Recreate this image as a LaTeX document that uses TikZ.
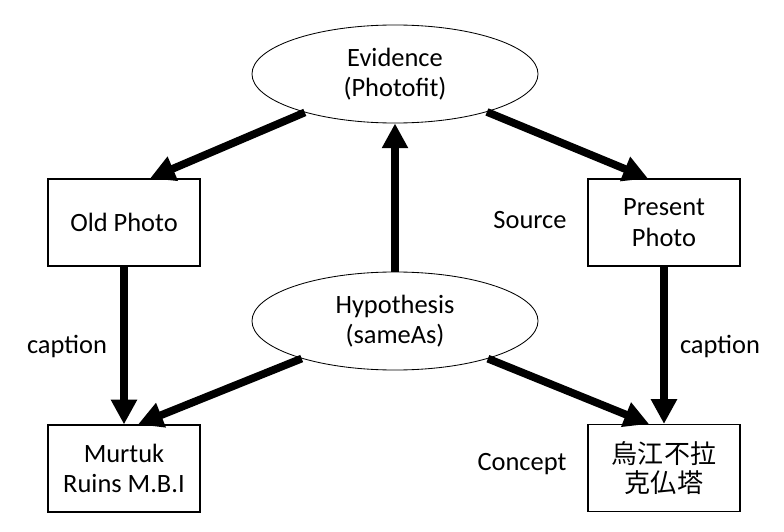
\documentclass[tikz,border=0pt]{standalone}
\usepackage{fontspec}
\setmainfont{Carlito}
\newfontfamily\cjkfont{Noto Sans CJK JP}
\usetikzlibrary{arrows.meta,shapes.geometric,calc}
\tikzset{every picture/.style={line width=0.75pt}}

\begin{document}
\begin{tikzpicture}[x=0.025cm, y=-0.025cm,
    font=\fontsize{18.8}{21.8}\selectfont,
    box/.style={draw, line width=0.8pt, minimum width=3.8cm, minimum height=2.175cm, align=center, inner sep=0pt},
    oval/.style={draw, ellipse, line width=0.6pt, minimum width=7.15cm, minimum height=2.45cm, align=center, inner sep=0pt},
    link/.style={line width=5.5pt, -{Triangle[length=6.2mm, width=6.2mm]}}]
    \useasboundingbox (0,0) rectangle (784,532);
    % Ellipses
    \node[oval] (evid) at (395,74) {Evidence\\(Photofit)};
    \node[oval] (hyp) at (395,321) {Hypothesis\\(sameAs)};
    % Boxes
    \node[box] (old) at (124,222.5) {Old Photo};
    \node[box] (pres) at (664,222.5) {Present\\Photo};
    \node[box] (murtuk) at (124,468.5) {Murtuk\\Ruins M.B.I};
    \node[box, font=\cjkfont\fontsize{18.5}{20.5}\selectfont] (stupa) at (664,468) {烏江不拉\\克仏塔};
    % Arrows
    \draw[link] (hyp) -- (evid);
    \draw[link] (evid) -- ($(old.north)+(26,0)$);
    \draw[link] (evid) -- ($(pres.north)+(-16,0)$);
    \draw[link] (old) -- (murtuk);
    \draw[link] (pres) -- (stupa);
    \draw[link] (hyp) -- ($(murtuk.north)+(14,0)$);
    \draw[link] (hyp) -- ($(stupa.north)+(-15,0)$);
    % Labels
    \node (src) at (530,220) {Source};
    \node (capl) at (67,346) {caption};
    \node (capr) at (720,346) {caption};
    \node (con) at (522,464) {Concept};
\end{tikzpicture}
\end{document}
